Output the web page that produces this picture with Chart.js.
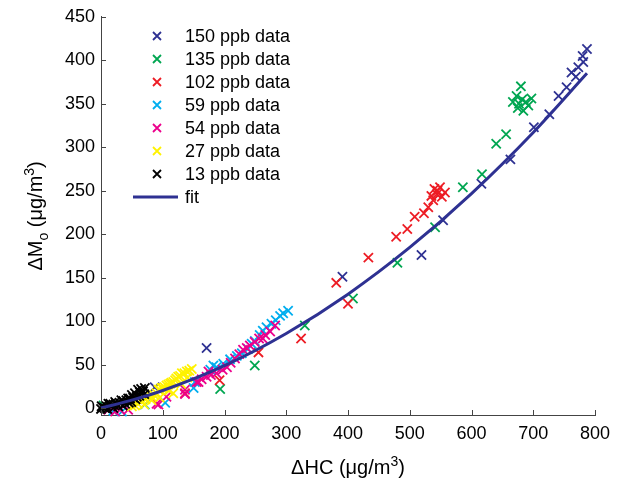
<!DOCTYPE html>
<html>
<head>
<meta charset="utf-8">
<script src="https://cdn.jsdelivr.net/npm/chart.js@4/dist/chart.umd.min.js"></script>
<style>
html,body{margin:0;padding:0;background:#fff;}
canvas{display:block;}
</style>
</head>
<body>
<canvas id="c" width="628" height="482"></canvas>
<script>
// ---- data ----
const seriesLabels = ["150 ppb data","135 ppb data","102 ppb data","59 ppb data","54 ppb data","27 ppb data","13 ppb data"];
const seriesColors = ["#2e3192","#00a651","#ed1c24","#00aeef","#ec008c","#fff200","#000000"];

const ppb150 = [[787,413],[780,405],[781,398],[773,392],[762,386],[769,381],[754,369],[741,359],[726,338],[701,323],[663,286],[616,258],[554,216],[519,176],[391,151],[171,69],[87,24]];
const ppb135 = [[680,370],[673,359],[667,352],[688,352],[697,356],[692,348],[684,342],[677,350],[675,345],[682,355],[656,315],[640,304],[617,269],[586,254],[541,208],[480,167],[408,126],[330,95],[249,49],[193,22],[4,3]];
const ppb102 = [[549,254],[557,248],[544,246],[552,243],[538,239],[545,250],[540,252],[535,244],[530,231],[523,224],[508,220],[496,206],[478,197],[433,173],[381,144],[400,120],[324,80],[255,64],[192,32],[136,17]];
const ppb59 = [[303,112],[295,109],[290,106],[283,101],[276,97],[268,93],[262,89],[257,84],[249,77],[244,74],[238,68],[228,63],[220,60],[209,56],[198,51],[187,47],[177,44],[182,49],[150,23],[152,30],[104,6],[71,4],[34,-4],[20,-3]];
const ppb54 = [[282,95],[274,88],[266,84],[262,80],[256,80],[249,76],[241,72],[236,69],[230,67],[224,62],[217,57],[210,52],[204,47],[197,44],[187,40],[178,38],[171,36],[163,33],[155,30],[136,21],[136,16],[106,13],[93,4],[90,5],[44,-2],[31,-2],[23,-4],[12,-2],[174,42],[158,30]];
const ppb27 = [[147,45],[143,43],[139,42],[135,40],[131,40],[128,37],[125,36],[122,34],[120,32],[117,30],[114,29],[112,28],[109,27],[106,26],[103,24],[100,23],[98,23],[95,21],[93,21],[90,17],[86,15],[82,13],[77,13],[72,10],[66,8],[60,5],[55,3],[50,2],[82,9],[117,17],[130,28],[140,35],[110,20],[95,12],[70,4]];
const ppb13 = [[71,23],[68,19],[66,17],[63,18],[60,21],[58,13],[55,17],[52,12],[49,7],[47,11],[44,11],[41,9],[39,5],[36,8],[33,9],[30,6],[28,2],[25,5],[23,7],[20,4],[17,3],[15,5],[12,5],[9,2],[6,0],[3,1],[1,2],[0,-1],[50,15],[62,14],[35,3],[45,6],[56,10],[20,0],[10,-1],[65,22],[70,16]];

const fitX = [0,50,100,200,300,400,500,600,700,787];
const fitY = [0,9.1,20.2,48.8,85.8,131,184.7,246.7,317,385];

const xTicks = [0,100,200,300,400,500,600,700,800];
const yTicks = [0,50,100,150,200,250,300,350,400,450];
// ---------------------------------------

const FONT = "'Liberation Sans', Arial, sans-serif";
const allSeries = [ppb150,ppb135,ppb102,ppb59,ppb54,ppb27,ppb13];

const datasets = allSeries.map((s,i)=>({
  type:'scatter',
  label: seriesLabels[i],
  data: s.map(p=>({x:p[0],y:p[1]})),
  pointStyle:'crossRot',
  pointRadius:6.5,
  pointHoverRadius:6.5,
  borderColor: seriesColors[i],
  backgroundColor: seriesColors[i],
  pointBorderWidth:1.8,
  borderWidth:1.8,
  showLine:false,
  clip:false,
  order: 7 - i + 1
}));
datasets.push({
  type:'line',
  label:'fit',
  data: fitX.map((x,i)=>({x:x,y:fitY[i]})),
  borderColor:'#2e3192',
  borderWidth:3,
  pointRadius:0,
  fill:false,
  cubicInterpolationMode:'monotone',
  order:0,
  clip:false
});

function richText(ctx, parts, size){
  let w=0;
  for(const p of parts){
    ctx.font = ((p.sub||p.sup)? Math.round(size*0.7):size)+"px "+FONT;
    w += ctx.measureText(p.t).width;
  }
  return w;
}
function drawRich(ctx, parts, size, x, y){
  let cx=x;
  for(const p of parts){
    const fs = (p.sub||p.sup)? Math.round(size*0.7):size;
    ctx.font = fs+"px "+FONT;
    let dy = 0;
    if(p.sub) dy = size*0.3;
    if(p.sup) dy = -size*0.42;
    ctx.fillText(p.t, cx, y+dy);
    cx += ctx.measureText(p.t).width;
  }
}

const decorPlugin = {
  id:'decor',
  afterDraw(chart){
    const ctx = chart.ctx;
    const xs = chart.scales.x, ys = chart.scales.y;
    const ca = chart.chartArea;
    ctx.save();
    ctx.strokeStyle = '#444';
    ctx.lineWidth = 1;
    for(const v of xTicks){
      const px = Math.round(xs.getPixelForValue(v))+0.5;
      ctx.beginPath(); ctx.moveTo(px, ca.bottom); ctx.lineTo(px, ca.bottom-5); ctx.stroke();
    }
    for(const v of yTicks){
      const py = Math.round(ys.getPixelForValue(v))+0.5;
      ctx.beginPath(); ctx.moveTo(ca.left, py); ctx.lineTo(ca.left+5, py); ctx.stroke();
    }
    ctx.fillStyle = '#000';
    ctx.textBaseline = 'alphabetic';
    ctx.textAlign = 'left';
    const xt = [{t:'\u0394HC (\u03bcg/m'},{t:'3',sup:true},{t:')'}];
    const xw = richText(ctx, xt, 20);
    drawRich(ctx, xt, 20, (ca.left+ca.right)/2 - xw/2, 474);
    const yt = [{t:'\u0394M'},{t:'o',sub:true},{t:' (\u03bcg/m'},{t:'3',sup:true},{t:')'}];
    const yw = richText(ctx, yt, 20);
    ctx.translate(42, (ca.top+ca.bottom)/2);
    ctx.rotate(-Math.PI/2);
    drawRich(ctx, yt, 20, -yw/2, 0);
    ctx.restore();

    ctx.save();
    ctx.font = "18px "+FONT;
    ctx.textBaseline = 'middle';
    ctx.fillStyle = '#000';
    const rows = [36,59,82,105,128,151,174,197];
    chart.data.datasets.forEach((d,i)=>{
      const y = rows[i];
      if(d.type==='scatter'){
        const r = 4;
        ctx.strokeStyle = d.borderColor; ctx.lineWidth = 1.8;
        ctx.beginPath();
        ctx.moveTo(157-r,y-r); ctx.lineTo(157+r,y+r);
        ctx.moveTo(157+r,y-r); ctx.lineTo(157-r,y+r);
        ctx.stroke();
      } else {
        ctx.strokeStyle = d.borderColor; ctx.lineWidth = 3;
        ctx.beginPath(); ctx.moveTo(133,y); ctx.lineTo(178,y); ctx.stroke();
      }
      ctx.fillStyle='#000';
      ctx.fillText(d.label, 185, y+1);
    });
    ctx.restore();
  }
};

new Chart(document.getElementById('c'), {
  data:{datasets},
  options:{
    responsive:false,
    animation:false,
    layout:{padding:{top:16,right:33,left:0,bottom:0}},
    plugins:{legend:{display:false},tooltip:{enabled:false}},
    scales:{
      x:{
        type:'linear', min:0, max:800,
        afterBuildTicks(s){ s.ticks = xTicks.map(v=>({value:v})); },
        afterFit(s){ s.height = 67; },
        grid:{display:false, drawTicks:false},
        border:{display:true, color:'#444', width:1},
        ticks:{color:'#000', font:{family:FONT, size:18}, padding:8, maxRotation:0}
      },
      y:{
        type:'linear', min:-8, max:450,
        afterBuildTicks(s){ s.ticks = yTicks.map(v=>({value:v})); },
        afterFit(s){ s.width = 101; },
        grid:{display:false, drawTicks:false},
        border:{display:true, color:'#444', width:1},
        ticks:{color:'#000', font:{family:FONT, size:18}, padding:6}
      }
    }
  },
  plugins:[decorPlugin]
});
</script>
</body>
</html>
